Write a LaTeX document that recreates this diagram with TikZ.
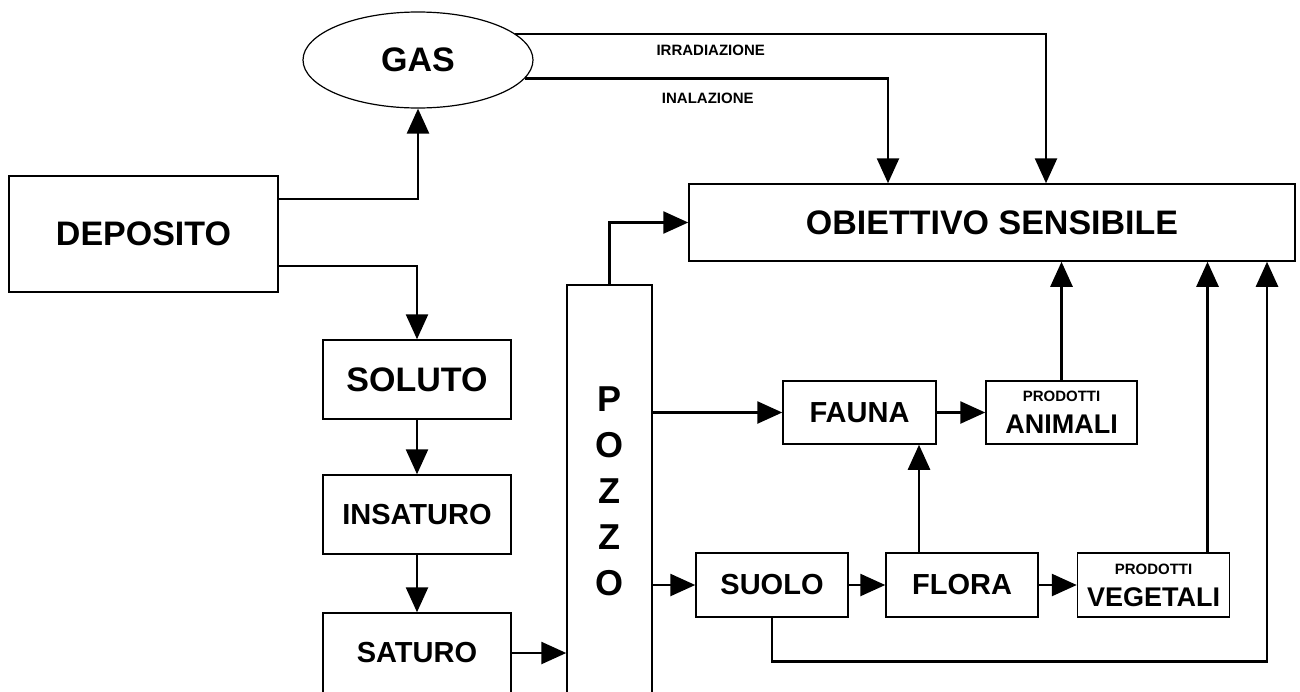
\documentclass[tikz,border=0pt]{standalone}
\usepackage{fontspec}
\setmainfont{Liberation Sans}
\usepackage{tikz}
\usetikzlibrary{positioning, arrows.meta, shapes.geometric}

\begin{document}
\begin{tikzpicture}[>={Triangle[length=12.5pt,width=11pt]},
                line width=1.3pt, on grid,
                box/.style={draw, line width=0.75pt, inner sep=0pt, align=center,
                            font=\bfseries\fontsize{14.5}{16}\selectfont},
                big/.style={font=\bfseries\fontsize{17}{20}\selectfont},
                lbl/.style={font=\bfseries\fontsize{7.5}{9}\selectfont, inner sep=0pt}]

                \useasboundingbox[fill=white] (0,0) rectangle (650pt,-345.5pt);

                \node[box, big, minimum width=134.5pt, minimum height=58pt] (dep) at (71.75pt,-117pt) {DEPOSITO};
                \node[box, big, ellipse, line width=0.6pt, minimum width=115pt, minimum height=48pt] (gas) [above right=87pt and 137.25pt of dep] {GAS};
                \node[box, big, minimum width=94pt, minimum height=39.5pt] (sol) [below right=72.75pt and 136.75pt of dep] {SOLUTO};
                \node[box, minimum width=94pt, minimum height=39.5pt] (ins) [below=67.5pt of sol] {INSATURO};
                \node[box, minimum width=94pt, minimum height=40pt] (sat) [below=69.25pt of ins] {SATURO};
                \node[box, minimum width=42.5pt, minimum height=206pt, font=\bfseries\fontsize{18}{23}\selectfont] (pozzo) [above right=81pt and 96.25pt of sat] {P\\O\\Z\\Z\\O};
                \node[box, big, minimum width=303pt, minimum height=38.5pt] (obj) [below right=81.25pt and 287pt of gas] {OBIETTIVO SENSIBILE};
                \node[box, minimum width=76.5pt, minimum height=31.5pt] (fauna) [above right=39.25pt and 125pt of pozzo] {FAUNA};
                \node[box, minimum width=75.5pt, minimum height=31.5pt, font=\bfseries\fontsize{13.5}{16}\selectfont] (ani) [right=101pt of fauna] {{\fontsize{7.5}{9}\selectfont PRODOTTI}\\ANIMALI};
                \node[box, minimum width=76pt, minimum height=32pt] (suolo) [below right=47pt and 81.25pt of pozzo] {SUOLO};
                \node[box, minimum width=76pt, minimum height=32pt] (flora) [right=95pt of suolo] {FLORA};
                \node[box, minimum width=76pt, minimum height=32pt, font=\bfseries\fontsize{13.5}{16}\selectfont] (veg) [right=95.75pt of flora] {{\fontsize{7.5}{9}\selectfont PRODOTTI}\\VEGETALI};

                \draw[->] ([yshift=17.5pt]dep.east) -| (gas.south);
                \draw[->] ([yshift=-16pt]dep.east) -| (sol.north);
                \draw[->] (gas.15) -| node[lbl, pos=0.184, below=4.75pt] {IRRADIAZIONE} ([xshift=27pt]obj.north);
                \draw[->] (gas.-10) -| node[lbl, pos=0.252, below=6.25pt] {INALAZIONE} ([xshift=-52pt]obj.north);
                \draw[->] (sol) -- (ins);
                \draw[->] (ins) -- (sat);
                \draw[->] (sat.east) -- (sat.east -| pozzo.west);
                \draw[->] (pozzo.north) |- (obj.west);
                \draw[->] (pozzo.east |- fauna.west) -- (fauna.west);
                \draw[->] (pozzo.east |- suolo.west) -- (suolo.west);
                \draw[->] (fauna) -- (ani);
                \draw[->] (suolo) -- (flora);
                \draw[->] (flora) -- (veg);
                \draw[->] ([xshift=-21.5pt]flora.north) -- ([xshift=-21.5pt]flora.north |- fauna.south);
                \draw[->] (ani.north) -- (ani.north |- obj.south);
                \draw[->] ([xshift=27pt]veg.north) -- ([xshift=27pt]veg.north |- obj.south);
                \draw[->] (suolo.south) -- ++(0,-22pt) -| ([xshift=137.5pt]obj.south);

            \end{tikzpicture}
\end{document}
